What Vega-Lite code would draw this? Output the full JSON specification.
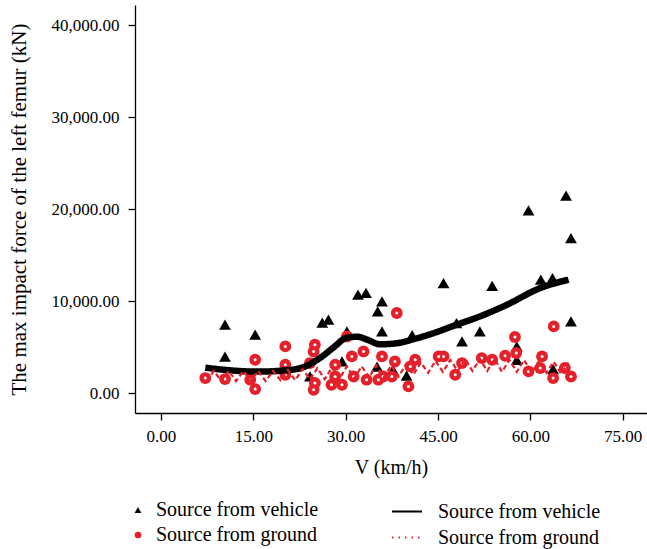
{
  "$schema": "https://vega.github.io/schema/vega-lite/v6.json",
  "width": 512,
  "height": 408,
  "autosize": {"type": "none"},
  "padding": {"left": 135, "top": 5, "right": 0, "bottom": 136},
  "background": "white",
  "config": {
    "view": {"stroke": null},
    "font": "Liberation Serif",
    "axis": {
      "grid": false,
      "domainColor": "#000000",
      "tickColor": "#000000",
      "labelColor": "#000000",
      "titleColor": "#000000",
      "labelFont": "Liberation Serif",
      "titleFont": "Liberation Serif",
      "labelFontSize": 17,
      "titleFontSize": 21,
      "titleFontWeight": "normal",
      "tickSize": 7,
      "domainWidth": 1.3,
      "tickWidth": 1.3
    },
    "legend": {
      "labelFont": "Liberation Serif",
      "labelFontSize": 20,
      "labelColor": "#000000",
      "labelLimit": 0,
      "padding": 0
    }
  },
  "datasets": {
    "pts": [
      {"V": 10.4, "F": 7430, "source": "Source from vehicle"},
      {"V": 10.4, "F": 3950, "source": "Source from vehicle"},
      {"V": 15.3, "F": 6340, "source": "Source from vehicle"},
      {"V": 24.2, "F": 1800, "source": "Source from vehicle"},
      {"V": 26.2, "F": 7650, "source": "Source from vehicle"},
      {"V": 27.2, "F": 7970, "source": "Source from vehicle"},
      {"V": 29.4, "F": 3430, "source": "Source from vehicle"},
      {"V": 30.2, "F": 6700, "source": "Source from vehicle"},
      {"V": 32.0, "F": 10690, "source": "Source from vehicle"},
      {"V": 33.3, "F": 10900, "source": "Source from vehicle"},
      {"V": 35.2, "F": 8870, "source": "Source from vehicle"},
      {"V": 35.9, "F": 9960, "source": "Source from vehicle"},
      {"V": 35.9, "F": 6700, "source": "Source from vehicle"},
      {"V": 35.1, "F": 2870, "source": "Source from vehicle"},
      {"V": 37.7, "F": 2530, "source": "Source from vehicle"},
      {"V": 39.9, "F": 1880, "source": "Source from vehicle"},
      {"V": 40.8, "F": 6300, "source": "Source from vehicle"},
      {"V": 45.9, "F": 11960, "source": "Source from vehicle"},
      {"V": 48.0, "F": 7600, "source": "Source from vehicle"},
      {"V": 48.9, "F": 5610, "source": "Source from vehicle"},
      {"V": 51.8, "F": 6700, "source": "Source from vehicle"},
      {"V": 53.8, "F": 11660, "source": "Source from vehicle"},
      {"V": 57.8, "F": 5070, "source": "Source from vehicle"},
      {"V": 57.8, "F": 3600, "source": "Source from vehicle"},
      {"V": 59.7, "F": 19850, "source": "Source from vehicle"},
      {"V": 61.7, "F": 12320, "source": "Source from vehicle"},
      {"V": 63.6, "F": 12500, "source": "Source from vehicle"},
      {"V": 63.7, "F": 2610, "source": "Source from vehicle"},
      {"V": 65.8, "F": 21450, "source": "Source from vehicle"},
      {"V": 66.6, "F": 16850, "source": "Source from vehicle"},
      {"V": 66.6, "F": 7780, "source": "Source from vehicle"},
      {"V": 7.2, "F": 1630, "source": "Source from ground"},
      {"V": 10.4, "F": 1520, "source": "Source from ground"},
      {"V": 14.5, "F": 1450, "source": "Source from ground"},
      {"V": 15.3, "F": 3620, "source": "Source from ground"},
      {"V": 15.3, "F": 430, "source": "Source from ground"},
      {"V": 20.2, "F": 5070, "source": "Source from ground"},
      {"V": 20.2, "F": 3080, "source": "Source from ground"},
      {"V": 20.2, "F": 1990, "source": "Source from ground"},
      {"V": 25.0, "F": 5250, "source": "Source from ground"},
      {"V": 24.8, "F": 4520, "source": "Source from ground"},
      {"V": 25.0, "F": 1090, "source": "Source from ground"},
      {"V": 24.8, "F": 360, "source": "Source from ground"},
      {"V": 24.2, "F": 3260, "source": "Source from ground"},
      {"V": 28.3, "F": 1800, "source": "Source from ground"},
      {"V": 27.7, "F": 900, "source": "Source from ground"},
      {"V": 28.3, "F": 3080, "source": "Source from ground"},
      {"V": 30.2, "F": 6150, "source": "Source from ground"},
      {"V": 31.0, "F": 3980, "source": "Source from ground"},
      {"V": 32.9, "F": 4520, "source": "Source from ground"},
      {"V": 31.3, "F": 1800, "source": "Source from ground"},
      {"V": 29.4, "F": 900, "source": "Source from ground"},
      {"V": 33.4, "F": 1450, "source": "Source from ground"},
      {"V": 35.3, "F": 1450, "source": "Source from ground"},
      {"V": 35.9, "F": 3980, "source": "Source from ground"},
      {"V": 38.3, "F": 8700, "source": "Source from ground"},
      {"V": 38.0, "F": 3430, "source": "Source from ground"},
      {"V": 36.1, "F": 1800, "source": "Source from ground"},
      {"V": 37.5, "F": 1800, "source": "Source from ground"},
      {"V": 40.2, "F": 720, "source": "Source from ground"},
      {"V": 41.3, "F": 3620, "source": "Source from ground"},
      {"V": 40.5, "F": 2890, "source": "Source from ground"},
      {"V": 45.1, "F": 3980, "source": "Source from ground"},
      {"V": 45.9, "F": 3980, "source": "Source from ground"},
      {"V": 47.8, "F": 1990, "source": "Source from ground"},
      {"V": 48.9, "F": 3260, "source": "Source from ground"},
      {"V": 52.1, "F": 3800, "source": "Source from ground"},
      {"V": 53.8, "F": 3620, "source": "Source from ground"},
      {"V": 55.9, "F": 4050, "source": "Source from ground"},
      {"V": 57.5, "F": 6090, "source": "Source from ground"},
      {"V": 57.7, "F": 4350, "source": "Source from ground"},
      {"V": 59.7, "F": 2350, "source": "Source from ground"},
      {"V": 61.9, "F": 3980, "source": "Source from ground"},
      {"V": 61.6, "F": 2720, "source": "Source from ground"},
      {"V": 63.8, "F": 7240, "source": "Source from ground"},
      {"V": 63.7, "F": 1630, "source": "Source from ground"},
      {"V": 65.6, "F": 2720, "source": "Source from ground"},
      {"V": 66.6, "F": 1800, "source": "Source from ground"}
    ],
    "lineV": [
      {"V": 7.2, "F": 2760, "line": "lv"},
      {"V": 10.1, "F": 2540, "line": "lv"},
      {"V": 15.6, "F": 2330, "line": "lv"},
      {"V": 19.8, "F": 2440, "line": "lv"},
      {"V": 22.6, "F": 2700, "line": "lv"},
      {"V": 25.9, "F": 3840, "line": "lv"},
      {"V": 28.0, "F": 4940, "line": "lv"},
      {"V": 30.2, "F": 6020, "line": "lv"},
      {"V": 31.9, "F": 6120, "line": "lv"},
      {"V": 33.5, "F": 5800, "line": "lv"},
      {"V": 35.6, "F": 5300, "line": "lv"},
      {"V": 38.4, "F": 5420, "line": "lv"},
      {"V": 41.0, "F": 5850, "line": "lv"},
      {"V": 44.0, "F": 6450, "line": "lv"},
      {"V": 48.0, "F": 7420, "line": "lv"},
      {"V": 51.8, "F": 8330, "line": "lv"},
      {"V": 56.2, "F": 9600, "line": "lv"},
      {"V": 61.6, "F": 11410, "line": "lv"},
      {"V": 66.2, "F": 12320, "line": "lv"}
    ],
    "lineG": [
      {"V": 7.4, "F": 1300, "line": "lg"},
      {"V": 8.6, "F": 2400, "line": "lg"},
      {"V": 9.8, "F": 1300, "line": "lg"},
      {"V": 11.0, "F": 2400, "line": "lg"},
      {"V": 12.2, "F": 1300, "line": "lg"},
      {"V": 13.4, "F": 2400, "line": "lg"},
      {"V": 14.6, "F": 1300, "line": "lg"},
      {"V": 15.8, "F": 2400, "line": "lg"},
      {"V": 17.0, "F": 1300, "line": "lg"},
      {"V": 18.2, "F": 2400, "line": "lg"},
      {"V": 19.4, "F": 1400, "line": "lg"},
      {"V": 20.6, "F": 2500, "line": "lg"},
      {"V": 21.8, "F": 1400, "line": "lg"},
      {"V": 23.0, "F": 2600, "line": "lg"},
      {"V": 24.2, "F": 1500, "line": "lg"},
      {"V": 25.4, "F": 2700, "line": "lg"},
      {"V": 26.6, "F": 1500, "line": "lg"},
      {"V": 27.8, "F": 2800, "line": "lg"},
      {"V": 29.0, "F": 1600, "line": "lg"},
      {"V": 30.2, "F": 2900, "line": "lg"},
      {"V": 31.4, "F": 1600, "line": "lg"},
      {"V": 32.6, "F": 2900, "line": "lg"},
      {"V": 33.8, "F": 1700, "line": "lg"},
      {"V": 35.0, "F": 3000, "line": "lg"},
      {"V": 36.2, "F": 1700, "line": "lg"},
      {"V": 37.4, "F": 3000, "line": "lg"},
      {"V": 38.6, "F": 1800, "line": "lg"},
      {"V": 39.8, "F": 3100, "line": "lg"},
      {"V": 41.0, "F": 2000, "line": "lg"},
      {"V": 42.2, "F": 3300, "line": "lg"},
      {"V": 43.4, "F": 2200, "line": "lg"},
      {"V": 44.6, "F": 3500, "line": "lg"},
      {"V": 45.8, "F": 2300, "line": "lg"},
      {"V": 47.0, "F": 3600, "line": "lg"},
      {"V": 48.2, "F": 2400, "line": "lg"},
      {"V": 49.4, "F": 3700, "line": "lg"},
      {"V": 50.6, "F": 2400, "line": "lg"},
      {"V": 51.8, "F": 3700, "line": "lg"},
      {"V": 53.0, "F": 2400, "line": "lg"},
      {"V": 54.2, "F": 3700, "line": "lg"},
      {"V": 55.4, "F": 2300, "line": "lg"},
      {"V": 56.6, "F": 3600, "line": "lg"},
      {"V": 57.8, "F": 2300, "line": "lg"},
      {"V": 59.0, "F": 3600, "line": "lg"},
      {"V": 60.2, "F": 2200, "line": "lg"},
      {"V": 61.4, "F": 3500, "line": "lg"},
      {"V": 62.6, "F": 2200, "line": "lg"},
      {"V": 63.8, "F": 3400, "line": "lg"},
      {"V": 65.0, "F": 2100, "line": "lg"},
      {"V": 66.2, "F": 3300, "line": "lg"}
    ]
  },
  "encoding": {
    "x": {
      "field": "V",
      "type": "quantitative",
      "scale": {"domain": [-4.22, 78.95], "nice": false, "zero": false},
      "axis": {"values": [0, 15, 30, 45, 60, 75], "format": ".2f", "title": "V (km/h)", "titleFontSize": 20, "labelPadding": 8, "titlePadding": 13}
    },
    "y": {
      "field": "F",
      "type": "quantitative",
      "scale": {"domain": [-2170, 42180], "nice": false, "zero": false},
      "axis": {"values": [0, 10000, 20000, 30000, 40000], "format": ",.2f", "title": "The max impact force of the left femur (kN)", "labelPadding": 9, "titlePadding": 22}
    }
  },
  "layer": [
    {
      "data": {"name": "pts"},
      "mark": {"type": "point", "filled": true, "opacity": 1, "strokeWidth": 0},
      "encoding": {
        "shape": {
          "field": "source", "type": "nominal",
          "scale": {"domain": ["Source from vehicle", "Source from ground"], "range": ["triangle-up", "circle"]},
          "legend": {"orient": "none", "legendX": -7, "legendY": 495, "rowPadding": 5, "title": null, "labelOffset": 8, "symbolSize": 45}
        },
        "fill": {
          "field": "source", "type": "nominal",
          "scale": {"domain": ["Source from vehicle", "Source from ground"], "range": ["#000000", "#e5202a"]},
          "legend": {"orient": "none", "legendX": -7, "legendY": 495, "rowPadding": 5, "title": null, "labelOffset": 8, "symbolSize": 45}
        },
        "size": {"value": 140}
      }
    },
    {
      "data": {"name": "pts"},
      "transform": [{"filter": "datum.source === 'Source from ground'"}],
      "mark": {"type": "point", "filled": true, "opacity": 1, "strokeWidth": 0, "shape": "circle", "fill": "#ffffff", "size": 9}
    },
    {
      "data": {"name": "lineV"},
      "mark": {"type": "line", "strokeWidth": 6.5, "interpolate": "monotone"},
      "encoding": {
        "color": {
          "field": "line", "type": "nominal",
          "scale": {"domain": ["lv", "lg"], "range": ["#000000", "#e5202a"]},
          "legend": {"orient": "none", "legendX": 256, "legendY": 490.5, "rowPadding": -4, "title": null, "labelOffset": 15, "symbolType": "stroke", "symbolSize": 900, "symbolStrokeWidth": 2, "labelExpr": "datum.value === 'lv' ? 'Source from vehicle' : 'Source from ground'"}
        },
        "strokeDash": {
          "field": "line", "type": "nominal",
          "scale": {"domain": ["lv", "lg"], "range": [[1, 0], [1.5, 5]]},
          "legend": {"orient": "none", "legendX": 256, "legendY": 490.5, "rowPadding": -4, "title": null, "labelOffset": 15, "symbolType": "stroke", "symbolSize": 900, "symbolStrokeWidth": 2, "labelExpr": "datum.value === 'lv' ? 'Source from vehicle' : 'Source from ground'"}
        }
      }
    },
    {
      "data": {"name": "lineG"},
      "mark": {"type": "line", "strokeWidth": 2.2, "strokeDash": [5, 3]},
      "encoding": {
        "color": {"field": "line", "type": "nominal"}
      }
    }
  ]
}
